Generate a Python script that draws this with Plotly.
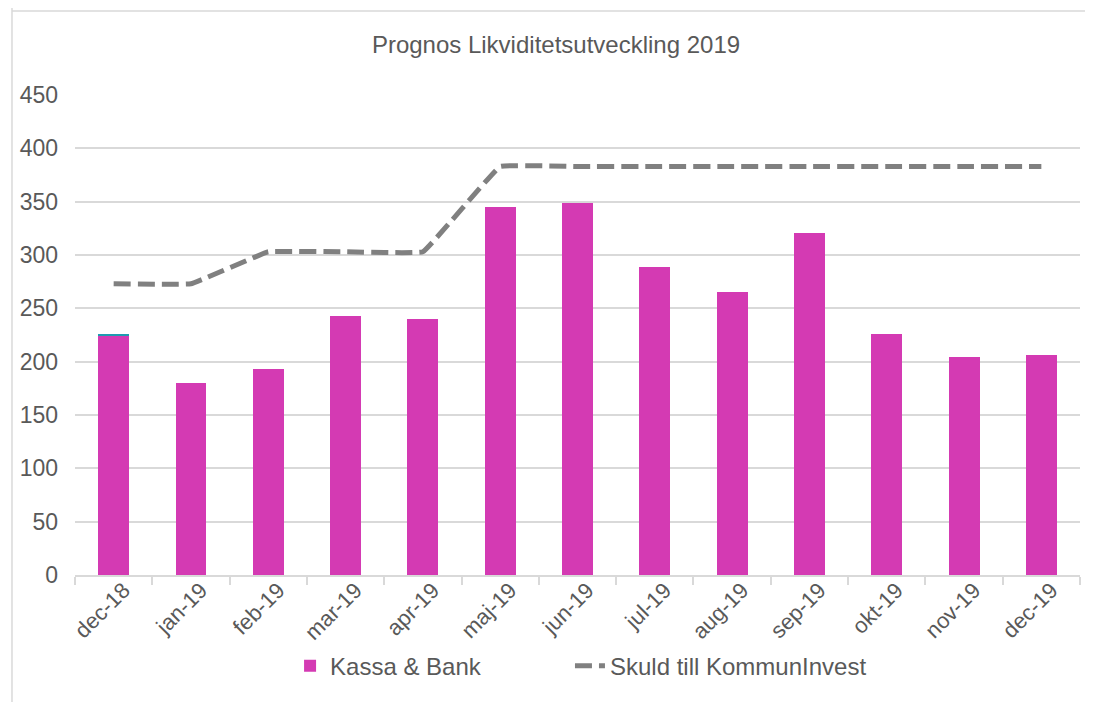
import plotly.graph_objects as go

months = ["dec-18", "jan-19", "feb-19", "mar-19", "apr-19", "maj-19", "jun-19",
          "jul-19", "aug-19", "sep-19", "okt-19", "nov-19", "dec-19"]
kassa_bank = [224, 180, 193, 243, 240, 345, 349, 289, 265, 321, 226, 204, 206]
extra = [2, 0, 0, 0, 0, 0, 0, 0, 0, 0, 0, 0, 0]
skuld = [273, 273, 303, 303, 303, 383, 383, 383, 383, 383, 383, 383, 383]
y_ticks = [0, 50, 100, 150, 200, 250, 300, 350, 400, 450]

FONT = "Liberation Sans, Arial, sans-serif"
TXT = "#595959"
GRID = "#d9d9d9"

fig = go.Figure()
fig.add_trace(go.Bar(x=months, y=kassa_bank, name="Kassa & Bank", legend="legend",
                     marker=dict(color="#D43AB3", line=dict(width=0))))
fig.add_trace(go.Bar(x=months, y=extra, name="Övrigt", showlegend=False,
                     marker=dict(color="#1E9BB0", line=dict(width=0))))
fig.add_trace(go.Scatter(x=months, y=skuld, name="Skuld till KommunInvest",
                         mode="lines", legend="legend2",
                         line=dict(color="#808080", width=5, dash="17px,7px",
                                   shape="spline", smoothing=0.18)))

legend_common = dict(orientation="h", xanchor="left", y=-0.19, yanchor="middle",
                     font=dict(family=FONT, size=24, color=TXT),
                     bgcolor="rgba(0,0,0,0)")

fig.update_layout(
    width=1085, height=694,
    barmode="stack", bargap=0.6,
    paper_bgcolor="white", plot_bgcolor="white",
    margin=dict(l=67, r=13, t=87, b=127),
    font=dict(family=FONT, color=TXT, size=23),
    title=dict(text="Prognos Likviditetsutveckling 2019", x=0.4786, xref="paper",
               xanchor="center", y=0.947, yanchor="middle",
               font=dict(family=FONT, size=24, color=TXT)),
    xaxis=dict(type="category", tickangle=-45, showgrid=False,
               showline=True, linecolor=GRID, linewidth=1.5,
               ticks="outside", tickson="boundaries", ticklen=8,
               tickcolor=GRID, tickwidth=1.5,
               ticklabelshift=10, ticklabelstandoff=-8,
               tickfont=dict(family=FONT, size=22, color=TXT)),
    yaxis=dict(range=[0, 450], tickvals=y_ticks, showgrid=True,
               gridcolor=GRID, gridwidth=1.5, zeroline=False,
               ticks="", ticklabelstandoff=16,
               tickfont=dict(family=FONT, size=23, color=TXT)),
    legend=dict(x=0.214, **legend_common),
    legend2=dict(x=0.4925, **legend_common),
    shapes=[
        dict(type="line", xref="paper", yref="paper", x0=-0.0627, x1=-0.0627,
             y0=1.19, y1=-0.3, line=dict(color=GRID, width=1.5)),
        dict(type="line", xref="paper", yref="paper", x0=-0.0627, x1=1.03,
             y0=1.175, y1=1.175, line=dict(color=GRID, width=1.5)),
    ],
)

fig.write_html("out.html")
